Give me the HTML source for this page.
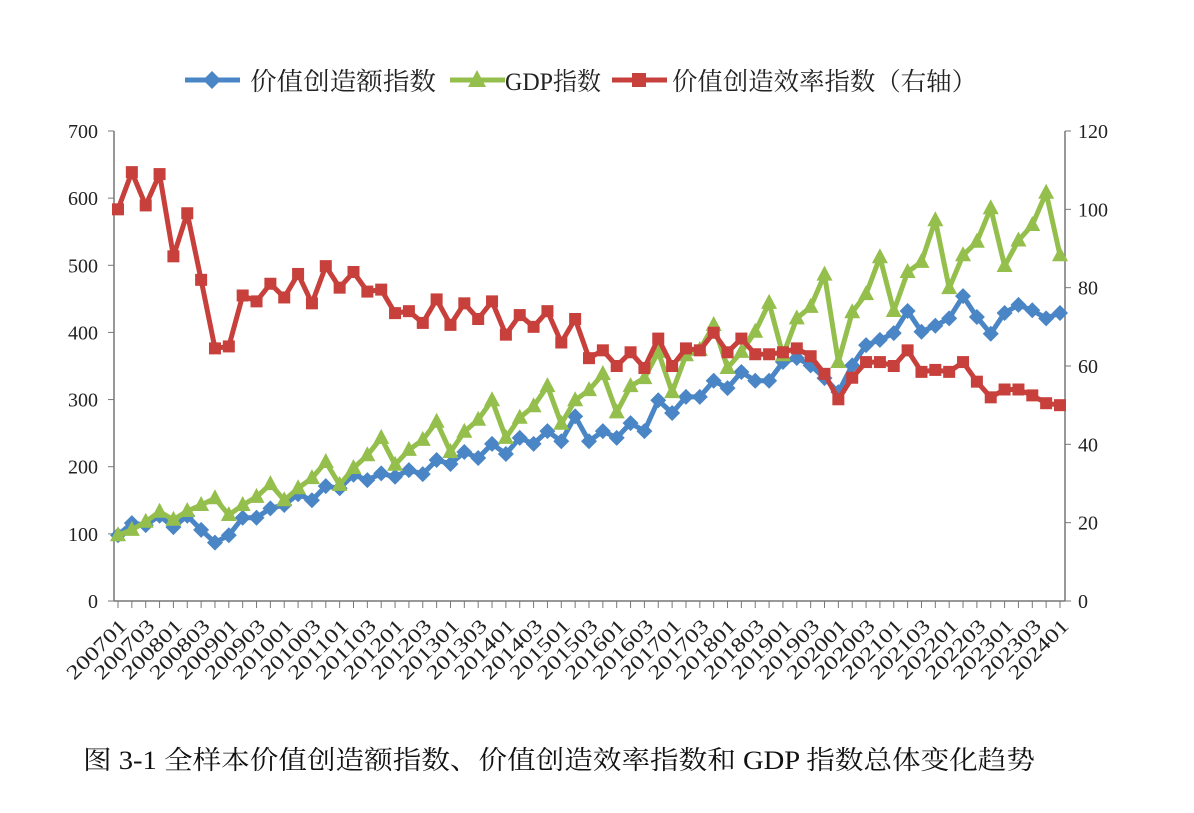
<!DOCTYPE html>
<html><head><meta charset="utf-8"><style>
body{margin:0;background:#fff;}
svg text{font-family:"Liberation Serif","Noto Serif CJK SC",serif;}
</style></head><body>
<svg id="c" width="1194" height="808" xmlns="http://www.w3.org/2000/svg"></svg>
<script>
const blueVals=[98,116,113,127,110,127,106,87,98,124,124,138,143,159,150,171,168,188,180,190,185,195,189,210,204,222,213,234,219,243,234,253,238,275,238,253,243,265,253,299,280,304,304,328,317,341,328,328,356,362,351,332,311,351,381,389,399,432,401,410,421,454,423,398,429,441,433,421,429];
const greenVals=[98,106,118,133,121,134,143,153,128,143,155,174,150,168,183,207,173,198,217,243,203,225,240,267,222,252,270,299,243,273,290,320,264,299,314,338,281,320,332,371,311,366,374,411,347,371,401,444,366,421,438,486,356,430,457,512,432,490,505,567,466,515,535,585,499,537,560,608,515];
const redVals=[100,109.5,101,109,88,99,82,64.5,65,78,76.5,81,77.5,83.5,76,85.5,80,84,79,79.5,73.5,74,71,77,70.5,76,72,76.5,68,73,70,74,66,72,62,64,60,63.5,59.5,67,60,64.5,64,68.5,63.5,67,63,63,63.5,64.5,62.5,58,51.5,57,61,61,60,64,58.5,59,58.5,61,56,52,54,54,52.5,50.5,50];
const leftTicks=[0,100,200,300,400,500,600,700];
const rightTicks=[0,20,40,60,80,100,120];
const categories=[];
for(let y=2007;y<=2024;y++)for(let q=1;q<=4;q++){if(y===2024&&q>1)break;categories.push(y+"0"+q);}

const svg=document.getElementById('c');
const NS="http://www.w3.org/2000/svg";
const X0=118,X1=1060,YB=601,YT=131;
const xs=i=>X0+i*(X1-X0)/(categories.length-1);
const yl=v=>YB-v/700*(YB-YT);
const yr=v=>YB-v/120*(YB-YT);
function mk(tag,attrs,parent){const e=document.createElementNS(NS,tag);for(const k in attrs)e.setAttribute(k,attrs[k]);(parent||svg).appendChild(e);return e;}

let a=mk('line',{x1:114,y1:YT,x2:114,y2:YB,stroke:'#777','stroke-width':1.5});


a=mk('line',{x1:1065,y1:YT,x2:1065,y2:YB,stroke:'#777','stroke-width':1.5});


a=mk('line',{x1:114,y1:YB,x2:1065,y2:YB,stroke:'#777','stroke-width':1.5});



leftTicks.forEach(v=>{
  mk('line',{x1:108,y1:yl(v),x2:114,y2:yl(v),stroke:'#777'});
  const t=mk('text',{x:98,y:yl(v)+7,'text-anchor':'end','font-size':20,fill:'#222'});
  t.textContent=v;
  
  
});
rightTicks.forEach(v=>{
  mk('line',{x1:1065,y1:yr(v),x2:1071,y2:yr(v),stroke:'#777'});
  const t=mk('text',{x:1078,y:yr(v)+7,'font-size':20,fill:'#222'});
  t.textContent=v;
  
  
});
categories.forEach((c,i)=>{
  const x=xs(i);
  mk('line',{x1:x,y1:YB,x2:x,y2:YB+7,stroke:'#777'});
  if(i%2===0){
    const ax=x+10,ay=YB+26;
    const t=mk('text',{x:ax,y:ay,'text-anchor':'end','font-size':20,fill:'#222',textLength:76,lengthAdjust:'spacingAndGlyphs',transform:`rotate(-45 ${ax} ${ay})`});
    t.textContent=c;
    
    
  }
});

function series(vals,yf,color,shape,name){
  const g=mk('g',{});
  
  
  mk('polyline',{points:vals.map((v,i)=>xs(i)+','+yf(v)).join(' '),fill:'none',stroke:color,'stroke-width':5,'stroke-linejoin':'round'},g);
  vals.forEach((v,i)=>{
    const x=xs(i),y=yf(v);let m;
    if(shape==='d')m=mk('polygon',{points:`${x},${y-8} ${x+8},${y} ${x},${y+8} ${x-8},${y}`,fill:color},g);
    else if(shape==='t')m=mk('polygon',{points:`${x},${y-9} ${x+8},${y+6} ${x-8},${y+6}`,fill:color},g);
    else m=mk('rect',{x:x-6,y:y-6,width:12,height:12,fill:color},g);
    
    
  });
}
series(blueVals,yl,'#4a86c5','d','value-creation-index-series');
series(greenVals,yl,'#94bf4c','t','gdp-index-series');
series(redVals,yr,'#c8403c','s','efficiency-index-series');

const lg=mk('g',{});


const items=[['#4a86c5','d','价值创造额指数',185,250,186],['#94bf4c','t','GDP指数',450,505,96],['#c8403c','s','价值创造效率指数（右轴）',612,672,305]];
items.forEach(([col,sh,lab,x,tx,tl])=>{
  const g=mk('g',{},lg);
  
  
  mk('line',{x1:x,y1:80,x2:x+55,y2:80,stroke:col,'stroke-width':5},g);
  const cx=x+27,cy=80;
  if(sh==='d')mk('polygon',{points:`${cx},${cy-9} ${cx+9},${cy} ${cx},${cy+9} ${cx-9},${cy}`,fill:col},g);
  else if(sh==='t')mk('polygon',{points:`${cx},${cy-10} ${cx+9},${cy+7} ${cx-9},${cy+7}`,fill:col},g);
  else mk('rect',{x:cx-7,y:cy-7,width:14,height:14,fill:col},g);
  const t=mk('text',{x:tx,y:90,'font-size':25,fill:'#222',textLength:tl,lengthAdjust:'spacingAndGlyphs'},g);
  t.textContent=lab;
});

const cap=mk('text',{x:83,y:769,'font-size':26,fill:'#111',textLength:952,lengthAdjust:'spacingAndGlyphs'});
cap.textContent='图 3-1 全样本价值创造额指数、价值创造效率指数和 GDP 指数总体变化趋势';


</script>
</body></html>
